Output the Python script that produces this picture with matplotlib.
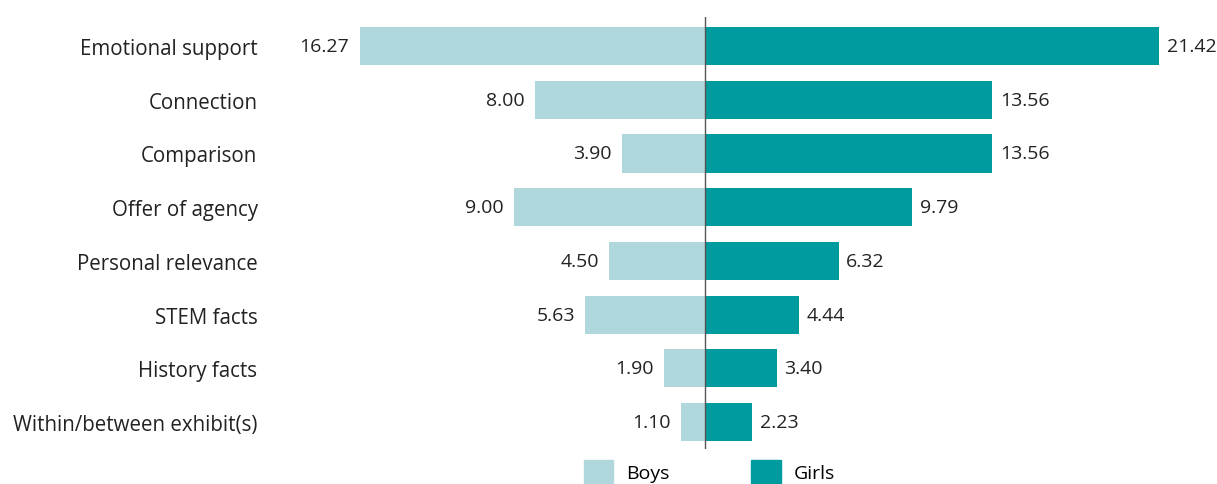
import numpy as np
import matplotlib.pyplot as plt
from matplotlib.patches import Patch

plt.rcParams['font.family'] = ['Open Sans', 'DejaVu Sans']

# data
categories = ["Emotional support", "Connection", "Comparison", "Offer of agency",
              "Personal relevance", "STEM facts", "History facts",
              "Within/between exhibit(s)"]
boys = [16.27, 8.00, 3.90, 9.00, 4.50, 5.63, 1.90, 1.10]
girls = [21.42, 13.56, 13.56, 9.79, 6.32, 4.44, 3.40, 2.23]

boys_color = "#b0d8dc"
girls_color = "#009b9e"
fs = 14.8
num_fs = 14

fig = plt.figure(figsize=(12.17, 4.85), dpi=100)
ax = fig.add_axes([270 / 1217, 1 - 450 / 485, 1 - 270 / 1217, 432 / 485])

y = np.arange(len(categories))
ax.barh(y, [-b for b in boys], height=0.71, color=boys_color)
ax.barh(y, girls, height=0.71, color=girls_color)
ax.axvline(0, color="#555555", linewidth=1)

for i in range(len(categories)):
    ax.text(-boys[i] - 0.5, y[i], f"{boys[i]:.2f}", ha="right", va="center",
            fontsize=num_fs, color="#222222")
    ax.text(girls[i] + 0.35, y[i], f"{girls[i]:.2f}", ha="left", va="center",
            fontsize=num_fs, color="#222222")

ax.set_xlim(-20.5, 24.15)
ax.set_ylim(7.5, -0.54)
ax.set_yticks(y)
ax.set_yticklabels(categories, fontsize=fs, color="#222222")
ax.tick_params(axis="y", length=0, pad=9)
ax.set_xticks([])
for s in ax.spines.values():
    s.set_visible(False)

handles = [Patch(color=boys_color, label="Boys"), Patch(color=girls_color, label="Girls")]
fig.legend(handles=handles, loc="center", bbox_to_anchor=(0.583, 0.025), ncol=2,
           frameon=False, fontsize=num_fs, handlelength=1.5, handleheight=1.45,
           columnspacing=4.2, handletextpad=0.7)

fig.savefig("out.png", dpi=100)
